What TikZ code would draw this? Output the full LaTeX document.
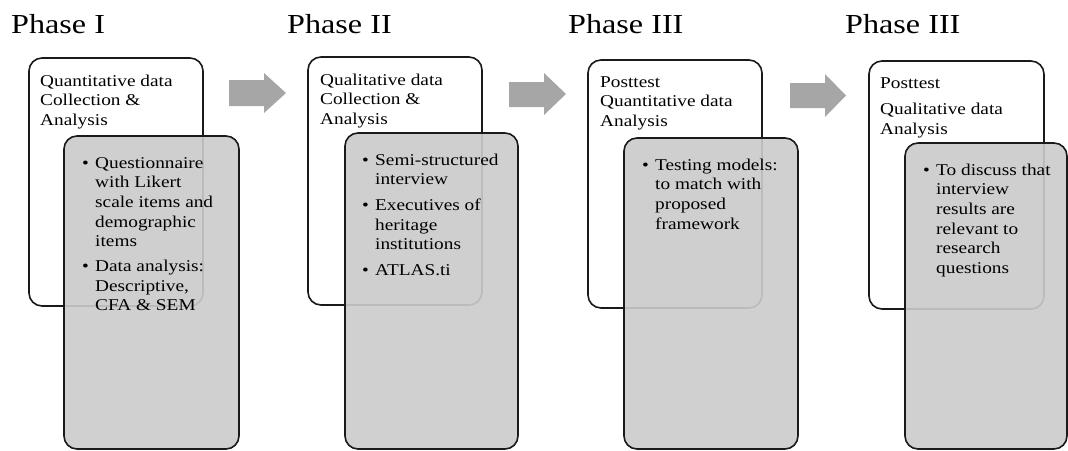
\documentclass[tikz,border=0pt]{standalone}
\usepackage{fontspec}
\setmainfont{Liberation Serif}[FakeStretch=1.17]
\definecolor{edge}{HTML}{1A1A1A}
\definecolor{panelgrey}{RGB}{203,203,203}
\definecolor{arrowgrey}{HTML}{A6A6A6}
% bullet item with hanging indent; lines inside an item are broken with \newline
\newcommand{\bitem}[1]{\par\hangindent=13pt\hangafter=1\noindent\hbox to 13pt{\textbullet\hss}#1}
\begin{document}
\begin{tikzpicture}[x=1pt,y=-1pt,
  whitebox/.style={draw=edge, line width=1.6pt, rounded corners=13pt, fill=white,
    minimum width=174pt, minimum height=248pt, inner sep=0pt, outer sep=0pt, anchor=north west},
  greybox/.style={draw=edge, line width=1.6pt, rounded corners=13pt, fill=panelgrey, fill opacity=0.91,
    draw opacity=1, minimum width=175pt, minimum height=313pt, inner sep=0pt, outer sep=0pt, anchor=north west},
  phase/.style={font=\fontsize{27.5pt}{33pt}\selectfont, inner sep=0pt, anchor=base west},
  boxtext/.style={font=\fontsize{16.5pt}{19.7pt}\selectfont, inner sep=0pt, anchor=base west},
  flowarrow/.style={fill=arrowgrey, draw=none}]
\useasboundingbox (0,0) rectangle (1068,450);
\clip (0,0) rectangle (1068,450);

% phase headings
\node[phase] (p1) at (11,33) {Phase I};
\node[phase] (p2) at (287,33) {Phase II};
\node[phase] (p3) at (568,33) {Phase III};
\node[phase] (p4) at (845,33) {Phase III};

% block arrows between phases
\draw[flowarrow] (229,80) -- (264,80) -- (264,73) -- (286,93) -- (264,113) -- (264,106) -- (229,106) -- cycle;
\draw[flowarrow] (509,82) -- (544,82) -- (544,73) -- (566,94) -- (544,115) -- (544,107) -- (509,107) -- cycle;
\draw[flowarrow] (790,83) -- (825,83) -- (825,74) -- (846,95.5) -- (825,117) -- (825,108) -- (790,108) -- cycle;

% Phase I
\node[whitebox] (w1) at (29,58) {};
\node[boxtext] (wt1) at (40,86) {\parbox[t]{200pt}{\raggedright Quantitative data\\Collection \&\\Analysis}};
\node[greybox] (g1) at (64,136) {};
\node[boxtext] (gt1) at (64,168) {\hspace{18pt}\parbox[t]{200pt}{\setlength{\parskip}{5pt}%
  \bitem{Questionnaire\newline with Likert\newline scale items and\newline demographic\newline items}%
  \bitem{Data analysis:\newline Descriptive,\newline CFA \& SEM}}};

% Phase II
\node[whitebox] (w2) at (308,57) {};
\node[boxtext] (wt2) at (320,85) {\parbox[t]{200pt}{\raggedright Qualitative data\\Collection \&\\Analysis}};
\node[greybox, minimum width=173pt, minimum height=316pt] (g2) at (345,133) {};
\node[boxtext] (gt2) at (345,165) {\hspace{17pt}\parbox[t]{200pt}{\setlength{\parskip}{6pt}%
  \bitem{Semi-structured\newline interview}%
  \bitem{Executives of\newline heritage\newline institutions}%
  \bitem{ATLAS.ti}}};

% Phase III
\node[whitebox] (w3) at (588,60) {};
\node[boxtext] (wt3) at (600,87) {\parbox[t]{200pt}{\raggedright Posttest\\Quantitative data\\Analysis}};
\node[greybox, minimum width=174pt, minimum height=311pt] (g3) at (624,138) {};
\node[boxtext] (gt3) at (624,170) {\hspace{18pt}\parbox[t]{200pt}{\setlength{\parskip}{6pt}%
  \bitem{Testing models:\newline to match with\newline proposed\newline framework}}};

% Phase III (qualitative)
\node[whitebox, minimum width=175pt] (w4) at (869,61) {};
\node[boxtext] (wt4) at (880,88) {\parbox[t]{200pt}{\raggedright Posttest\\[7pt]Qualitative data\\Analysis}};
\node[greybox, minimum width=162pt, minimum height=306pt] (g4) at (905,143) {};
\node[boxtext] (gt4) at (905,175) {\hspace{18pt}\parbox[t]{200pt}{\setlength{\parskip}{6pt}%
  \bitem{To discuss that\newline interview\newline results are\newline relevant to\newline research\newline questions}}};
\end{tikzpicture}
\end{document}
